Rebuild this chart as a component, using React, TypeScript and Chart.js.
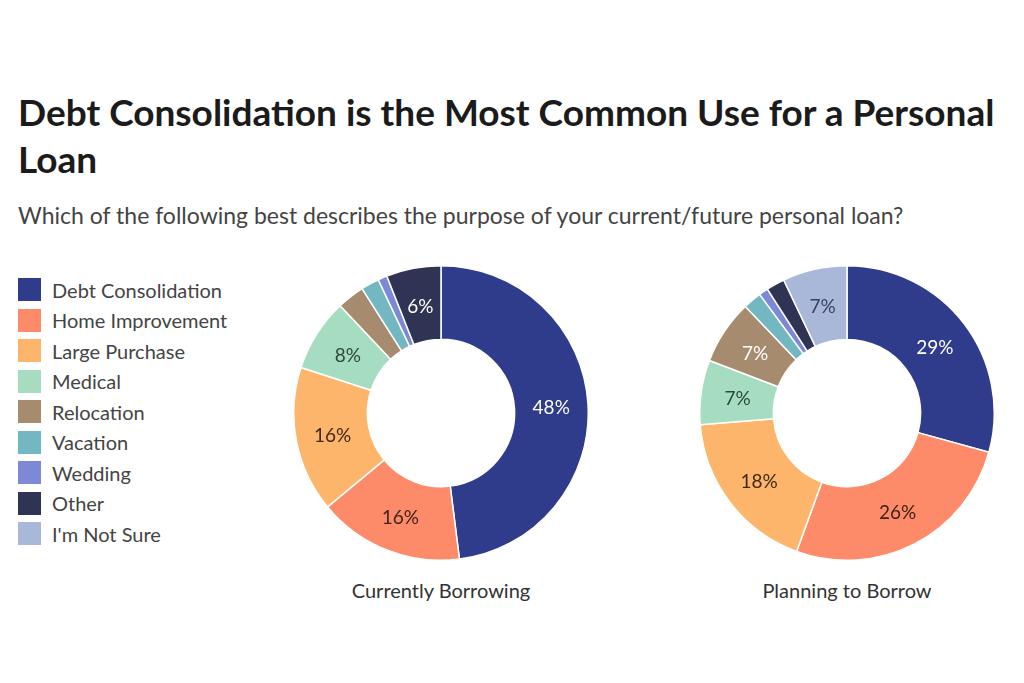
import React, { useEffect, useRef } from "react";
import { Chart, registerables } from "chart.js";

Chart.register(...registerables);

const categories = [
  "Debt Consolidation",
  "Home Improvement",
  "Large Purchase",
  "Medical",
  "Relocation",
  "Vacation",
  "Wedding",
  "Other",
  "I'm Not Sure",
];
const colors = [
  "#2f3b8b",
  "#fd8a69",
  "#fdb56c",
  "#a6dcc0",
  "#a68b6e",
  "#72b7c1",
  "#7d88d6",
  "#2f3454",
  "#a9b8d9",
];
const labelColors = [
  "#ffffff",
  "#3f2219",
  "#3f2a15",
  "#2c4a3c",
  "#ffffff",
  "#ffffff",
  "#ffffff",
  "#ffffff",
  "#3a4260",
];
const currentlyBorrowing = [48, 16, 16, 8, 3, 2, 1, 6, 0];
const planningToBorrow = [29, 26, 18, 7, 7, 2, 1, 2, 7];
const chartTitles = ["Currently Borrowing", "Planning to Borrow"];

const FONT = "Lato, 'Noto Sans', sans-serif";

const labelPlugin = {
  id: "sliceLabels",
  afterDatasetsDraw(chart: any) {
    const ctx = chart.ctx;
    const meta = chart.getDatasetMeta(0);
    const data = chart.data.datasets[0].data as number[];
    ctx.save();
    ctx.font = `19px ${FONT}`;
    ctx.textAlign = "center";
    ctx.textBaseline = "middle";
    meta.data.forEach((arc: any, i: number) => {
      const v = data[i];
      if (v < 5) return;
      const p = arc.tooltipPosition();
      ctx.fillStyle = labelColors[i];
      ctx.fillText(`${v}%`, p.x, p.y + 2);
    });
    ctx.restore();
  },
};

function Donut({ values, left, top }: { values: number[]; left: number; top: number }) {
  const ref = useRef<HTMLCanvasElement>(null);
  useEffect(() => {
    if (!ref.current) return;
    const chart = new Chart(ref.current, {
      type: "doughnut",
      data: {
        labels: categories,
        datasets: [
          {
            data: values,
            backgroundColor: colors,
            borderColor: "#ffffff",
            borderWidth: 1.5,
            hoverOffset: 0,
          },
        ],
      },
      options: {
        responsive: false,
        animation: false,
        cutout: "50%",
        plugins: { legend: { display: false }, tooltip: { enabled: false } },
        layout: { padding: 0 },
      },
      plugins: [labelPlugin],
    });
    return () => chart.destroy();
  }, [values]);
  return (
    <canvas
      ref={ref}
      width={296}
      height={296}
      style={{ position: "absolute", left, top, width: 296, height: 296 }}
    />
  );
}

export default function App() {
  return (
    <div
      style={{
        position: "fixed",
        left: 0,
        top: 0,
        width: 1024,
        height: 683,
        background: "#ffffff",
        fontFamily: FONT,
        overflow: "hidden",
      }}
    >
      <div
        style={{
          position: "absolute",
          left: 18,
          top: 88,
          fontSize: 37,
          fontWeight: 700,
          color: "#1b1b1b",
          lineHeight: "47px",
          whiteSpace: "nowrap",
        }}
      >
        <div>Debt Consolidation is the Most Common Use for a Personal</div>
        <div>Loan</div>
      </div>
      <div
        style={{
          position: "absolute",
          left: 18,
          top: 201,
          fontSize: 23,
          color: "#444444",
          whiteSpace: "nowrap",
        }}
      >
        Which of the following best describes the purpose of your current/future personal loan?
      </div>
      {categories.map((c, i) => (
        <div
          key={c}
          style={{
            position: "absolute",
            left: 18,
            top: 278 + i * 30.5,
            height: 23,
            display: "flex",
            alignItems: "center",
            whiteSpace: "nowrap",
          }}
        >
          <div style={{ width: 23, height: 23, background: colors[i], marginRight: 11 }} />
          <span style={{ fontSize: 20, color: "#444444" }}>{c}</span>
        </div>
      ))}
      <Donut values={currentlyBorrowing} left={441 - 148} top={413 - 148} />
      <Donut values={planningToBorrow} left={847 - 148} top={413 - 148} />
      {chartTitles.map((t, i) => (
        <div
          key={t}
          style={{
            position: "absolute",
            left: (i === 0 ? 441 : 847) - 130,
            width: 260,
            top: 578,
            textAlign: "center",
            fontSize: 20,
            color: "#333333",
          }}
        >
          {t}
        </div>
      ))}
    </div>
  );
}
